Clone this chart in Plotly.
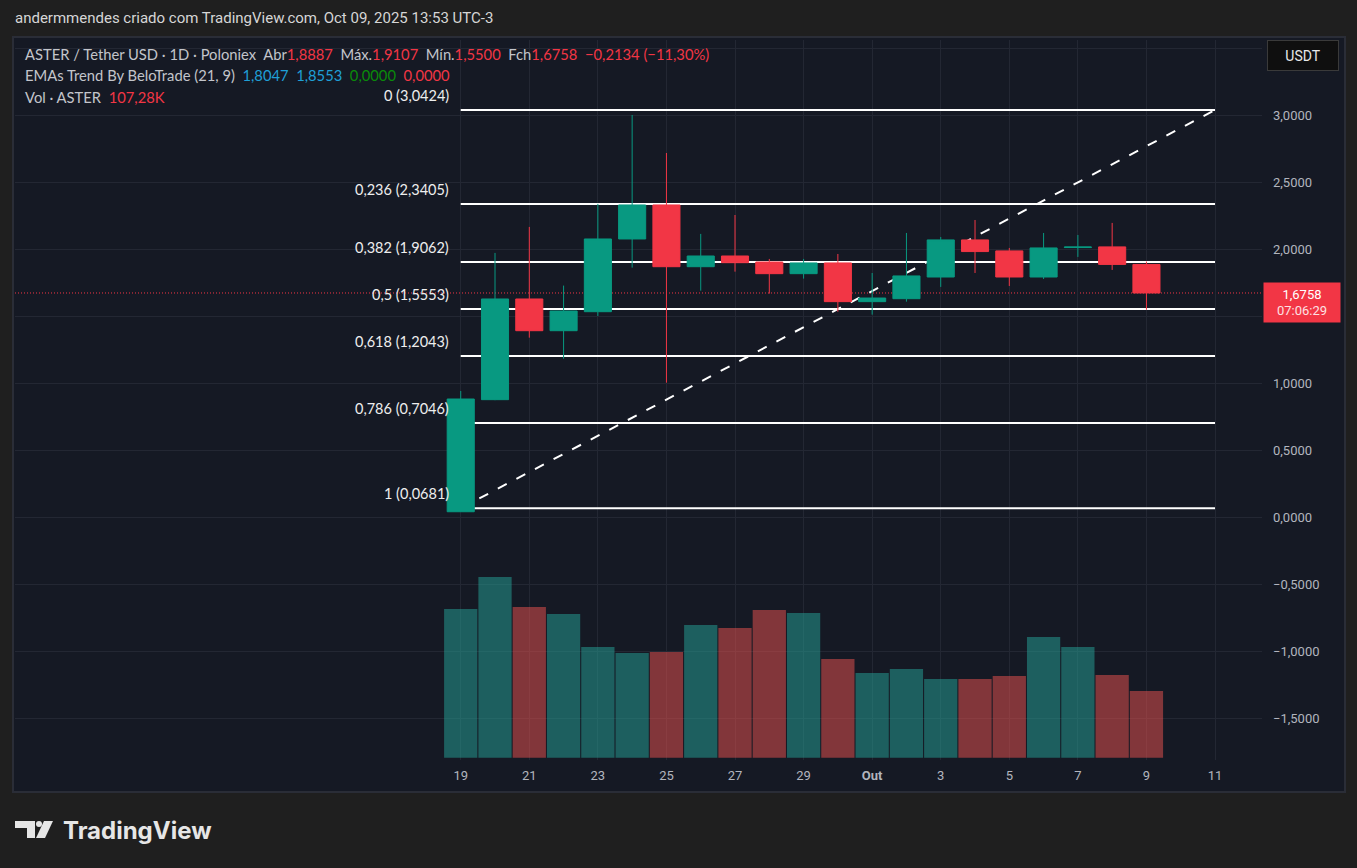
import plotly.graph_objects as go
import pandas as pd

# ---------------- data ----------------
dates = [d.strftime("%Y-%m-%d") for d in pd.date_range("2025-09-19", "2025-10-09", freq="D")]
opens = [0.042, 0.879, 1.631, 1.394, 1.536, 2.079, 2.333, 1.872, 1.952, 1.907, 1.820,
         1.900, 1.611, 1.633, 1.795, 2.072, 1.990, 1.795, 2.015, 2.020, 1.8887]
highs = [0.944, 1.975, 2.169, 1.731, 2.341, 3.005, 2.721, 2.117, 2.258, 1.930, 1.930,
         1.967, 1.825, 2.124, 2.094, 2.221, 2.012, 2.124, 2.109, 2.199, 1.9107]
lows = [0.040, 0.875, 1.342, 1.185, 1.504, 1.865, 1.006, 1.693, 1.835, 1.671, 1.783,
        1.536, 1.514, 1.611, 1.721, 1.825, 1.728, 1.780, 1.945, 1.848, 1.5500]
closes = [0.884, 1.631, 1.394, 1.541, 2.079, 2.333, 1.872, 1.952, 1.902, 1.820, 1.900,
          1.611, 1.638, 1.803, 2.072, 1.985, 1.795, 2.012, 2.019, 1.8892, 1.6758]
volume_k = [239.1, 290.6, 242.3, 231.1, 178.0, 168.4, 170.0, 213.4, 208.6, 237.5, 232.7,
            158.7, 136.2, 142.6, 126.6, 126.6, 131.4, 194.1, 178.0, 133.0, 107.28]

fib_ratios = [0, 0.236, 0.382, 0.5, 0.618, 0.786, 1]
fib_ratio_labels = ["0", "0,236", "0,382", "0,5", "0,618", "0,786", "1"]
fib_high = 3.0424
fib_low = 0.0681
fib_start = "2025-09-19"
fib_end = "2025-10-11"

ema_values = [1.8047, 1.8553, 0.0, 0.0]
ema_colors = ["#1f9fd6", "#1f9fd6", "#0a8a0a", "#f23645"]

x_tickvals = ["2025-09-19", "2025-09-21", "2025-09-23", "2025-09-25", "2025-09-27", "2025-09-29",
              "2025-10-01", "2025-10-03", "2025-10-05", "2025-10-07", "2025-10-09", "2025-10-11"]
x_ticktext = ["19", "21", "23", "25", "27", "29", "<b>Out</b>", "3", "5", "7", "9", "11"]

# price-axis ticks (1,5000 and 3,5000 sit under the price tag / USDT button in the reference)
y_tickvals = [-1.5, -1.0, -0.5, 0.0, 0.5, 1.0, 1.5, 2.0, 2.5, 3.0, 3.5]
y_ticktext = ["\u22121,5000", "\u22121,0000", "\u22120,5000", "0,0000", "0,5000", "1,0000", "",
              "2,0000", "2,5000", "3,0000", ""]

# ---------------- layout geometry (pixels) ----------------
FW, FH = 1357, 868
L, R, T, B = 15, 1262, 40, 760
W, H = R - L, B - T


def px(x):
    return (x - L) / W


def py(y):
    return (B - y) / H


def fmt(v, n=4):
    s = f"{abs(v):.{n}f}".replace(".", ",")
    return ("\u2212" + s) if v < 0 else s


UP, DOWN = "#089981", "#f23645"
VOL_UP, VOL_DOWN = "rgba(38,166,154,0.5)", "rgba(239,83,80,0.5)"
PANE = "#151924"
GRID = "#232733"
FONT = "Roboto"
LFONT = "Lato"

vol_colors = [VOL_UP if c >= o else VOL_DOWN for o, c in zip(opens, closes)]

fig = go.Figure()
fig.add_trace(go.Bar(
    x=dates, y=volume_k, yaxis="y2", marker=dict(color=vol_colors, line=dict(width=0)),
    hoverinfo="skip"))
fig.add_trace(go.Candlestick(
    x=dates, open=opens, high=highs, low=lows, close=closes,
    increasing=dict(line=dict(color=UP, width=1), fillcolor=UP),
    decreasing=dict(line=dict(color=DOWN, width=1), fillcolor=DOWN),
    whiskerwidth=0))

shapes = []
# pane
shapes.append(dict(type="rect", xref="paper", yref="paper", x0=px(13), x1=px(1345), y0=py(792), y1=py(37),
                   fillcolor=PANE, line=dict(color="#2a2d37", width=2), layer="below"))
# fib lines
fib_values = [fib_high - r * (fib_high - fib_low) for r in fib_ratios]
for v in fib_values:
    shapes.append(dict(type="line", xref="x", yref="y", x0=fib_start, x1=fib_end, y0=v, y1=v,
                       line=dict(color="#ffffff", width=2), layer="between"))
# trend line (fib anchors)
shapes.append(dict(type="line", xref="x", yref="y", x0=fib_start, x1=fib_end, y0=fib_low, y1=fib_high,
                   line=dict(color="#ffffff", width=2, dash="10px,11px"), layer="between"))
# last price line
shapes.append(dict(type="line", xref="paper", yref="y", x0=0, x1=1, y0=closes[-1], y1=closes[-1],
                   line=dict(color=DOWN, width=1, dash="1px,2px"), layer="between"))


# TradingView logo icon
def path(points):
    return "M " + " L ".join(f"{px(a)},{py(b)}" for a, b in points) + " Z"


shapes.append(dict(type="path", xref="paper", yref="paper",
                   path=path([(15, 821), (35, 821), (35, 838), (27, 838), (27, 828), (15, 828)]),
                   fillcolor="#e6e6e6", line=dict(width=0)))
shapes.append(dict(type="circle", xref="paper", yref="paper", x0=px(36), x1=px(42), y0=py(827), y1=py(821),
                   fillcolor="#e6e6e6", line=dict(width=0)))
shapes.append(dict(type="path", xref="paper", yref="paper",
                   path=path([(44, 821), (53, 821), (45, 838), (36, 838)]),
                   fillcolor="#e6e6e6", line=dict(width=0)))

ann = []
for lab, v in zip(fib_ratio_labels, fib_values):
    ann.append(dict(x=fib_start, y=v, xref="x", yref="y", xanchor="right", yanchor="middle",
                    xshift=-10, yshift=14.5, showarrow=False, text=f"{lab} ({fmt(v)})",
                    font=dict(family=LFONT, size=14.5, color="#eeeeee")))

# top title
ann.append(dict(x=px(13), y=py(18), xref="paper", yref="paper", xanchor="left", yanchor="middle",
                showarrow=False, text="andermmendes criado com TradingView.com, Oct 09, 2025 13:53 UTC-3",
                font=dict(family=FONT, size=15, color="#d6d6d6")))

GR = "#c3c5cb"
SP = "&nbsp;&nbsp;"


def red(s):
    return f"<span style='color:{DOWN}'>{s}</span>"


chg = closes[-1] - closes[-2]
pct = chg / closes[-2] * 100
line1 = (f"ASTER / Tether USD · 1D · Poloniex{SP}Abr{red(fmt(opens[-1]))}{SP}Máx.{red(fmt(highs[-1]))}"
         f"{SP}Mín.{red(fmt(lows[-1]))}{SP}Fch{red(fmt(closes[-1]))}{SP}"
         f"{red(fmt(chg) + ' (' + fmt(pct, 2) + '%)')}")
line2 = "EMAs Trend By BeloTrade (21, 9)" + "".join(
    f"{SP}<span style='color:{c}'>{fmt(v)}</span>" for v, c in zip(ema_values, ema_colors))
line3 = f"Vol · ASTER{SP}{red(fmt(volume_k[-1], 2) + 'K')}"
for txt, yy in [(line1, 54), (line2, 75), (line3, 97)]:
    ann.append(dict(x=px(23), y=py(yy), xref="paper", yref="paper", xanchor="left", yanchor="middle",
                    showarrow=False, text=txt, font=dict(family=LFONT, size=14.75, color=GR)))

# USDT button
ann.append(dict(x=px(1267), y=py(40), xref="paper", yref="paper", xanchor="left", yanchor="top",
                showarrow=False, text="USDT", width=66, height=25, borderpad=2, borderwidth=1,
                bordercolor="#3a3a3a", bgcolor="#0f0f0f", font=dict(family=FONT, size=14, color="#e8e8e8")))
# last price label
ann.append(dict(x=px(1263), y=closes[-1], xref="paper", yref="y", xanchor="left", yanchor="top",
                yshift=10.5, showarrow=False, width=72, height=35, borderpad=2, bgcolor=DOWN,
                text=f"{fmt(closes[-1])}<br><span style='color:#fde0e2'>07:06:29</span>",
                font=dict(family=FONT, size=13, color="#ffffff")))
# logo text
ann.append(dict(x=px(61), y=py(830), xref="paper", yref="paper", xanchor="left", yanchor="middle",
                showarrow=False, text="<b>TradingView</b>",
                font=dict(family="Inter", size=24, color="#e6e6e6")))

fig.update_layout(
    width=FW, height=FH,
    margin=dict(l=L, r=FW - R, t=T, b=FH - B),
    paper_bgcolor="#1f1f1f", plot_bgcolor=PANE,
    showlegend=False, separators=",.",
    boxgap=0.21, boxgroupgap=0, bargap=0.03,
    font=dict(family=FONT, color="#b2b5be", size=13),
    shapes=shapes, annotations=ann,
    xaxis=dict(type="date", range=["2025-09-06 00:00", "2025-10-12 08:53"],
               tickmode="array", tickvals=x_tickvals, ticktext=x_ticktext,
               showgrid=True, gridcolor=GRID, gridwidth=1, zeroline=False, showline=False,
               ticks="", tickfont=dict(family=FONT, size=13, color="#b2b5be"),
               ticklabelstandoff=6, rangeslider=dict(visible=False), fixedrange=True),
    yaxis=dict(side="right", range=[-1.812, 3.565], tickmode="array",
               tickvals=y_tickvals, ticktext=y_ticktext,
               showgrid=True, gridcolor=GRID, gridwidth=1, zeroline=False, showline=False,
               ticks="", tickfont=dict(family=FONT, size=13, color="#b2b5be"),
               ticklabelstandoff=10, fixedrange=True),
    yaxis2=dict(overlaying="y", range=[-3.7, 1154], visible=False, fixedrange=True),
)

fig.write_html("out.html")
